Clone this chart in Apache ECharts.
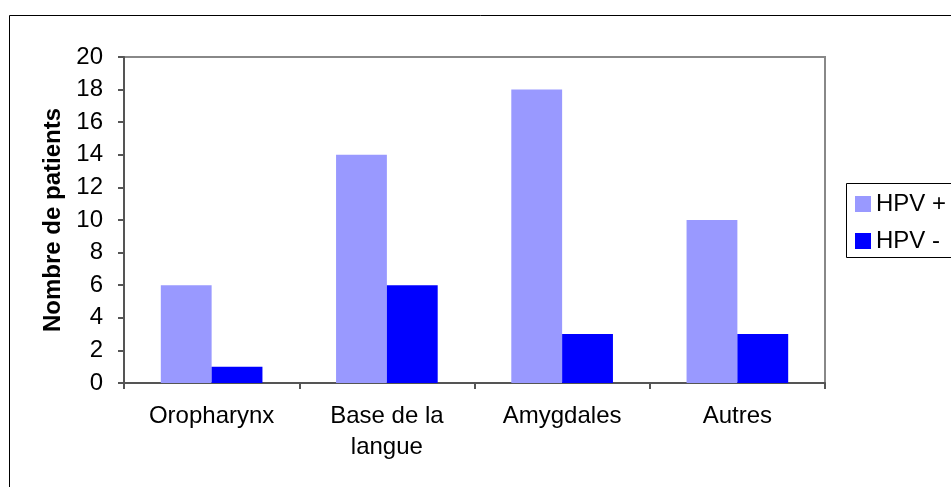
<!DOCTYPE html>
<html><head><meta charset="utf-8">
<script src="https://cdn.jsdelivr.net/npm/echarts@6/dist/echarts.min.js"></script>
<style>html,body{margin:0;padding:0;background:#fff}#c{width:951px;height:487px}</style>
</head><body><div id="c"></div>
<script>
const categories = ['Oropharynx', 'Base de la\nlangue', 'Amygdales', 'Autres'];
const hpvPos = [6, 14, 18, 10];
const hpvNeg = [1, 6, 3, 3];
const seriesNames = ['HPV +', 'HPV -'];
const yTitle = 'Nombre de patients';

const chart = echarts.init(document.getElementById('c'), null, {renderer: 'canvas'});
const font = '"Liberation Sans", Arial, sans-serif';
chart.setOption({
  animation: false,
  backgroundColor: '#fff',
  graphic: [
    {type: 'rect', shape: {x: 9.5, y: 15.5, width: 1200, height: 1000}, style: {fill: 'none', stroke: '#000', lineWidth: 1}, z: -10},
    {type: 'rect', shape: {x: 846.5, y: 183.5, width: 200, height: 74}, style: {fill: '#fff', stroke: '#000', lineWidth: 1}, z: 1}
  ],
  grid: {left: 124, right: 126, top: 57, bottom: 104, show: true, borderColor: '#888', borderWidth: 2, backgroundColor: 'transparent'},
  legend: {
    orient: 'vertical', left: 855, top: 192, itemWidth: 16, itemHeight: 16, itemGap: 13,
    icon: 'rect', z: 5, padding: 0,
    textStyle: {fontFamily: font, fontSize: 24, color: '#000'},
    data: seriesNames
  },
  xAxis: {
    type: 'category', data: categories,
    axisLine: {lineStyle: {color: '#555', width: 2}},
    axisTick: {show: true, length: 6, lineStyle: {color: '#555', width: 2}},
    axisLabel: {fontFamily: font, fontSize: 24, color: '#000', margin: 18, lineHeight: 31}
  },
  yAxis: {
    type: 'value', min: 0, max: 20, interval: 2,
    name: yTitle, nameLocation: 'middle', nameGap: 58, nameRotate: 90,
    nameTextStyle: {fontFamily: font, fontSize: 24, fontWeight: 'bold', color: '#000'},
    axisLine: {show: true, lineStyle: {color: '#555', width: 2}},
    axisTick: {show: true, length: 6, lineStyle: {color: '#555', width: 2}},
    splitLine: {show: false},
    axisLabel: {fontFamily: font, fontSize: 24, color: '#000', margin: 21}
  },
  series: [
    {name: seriesNames[0], type: 'bar', data: hpvPos, itemStyle: {color: '#9999FF'}, barGap: '0%', barCategoryGap: '42%'},
    {name: seriesNames[1], type: 'bar', data: hpvNeg, itemStyle: {color: '#0000FF'}, barGap: '0%', barCategoryGap: '42%'}
  ]
});
</script></body></html>
